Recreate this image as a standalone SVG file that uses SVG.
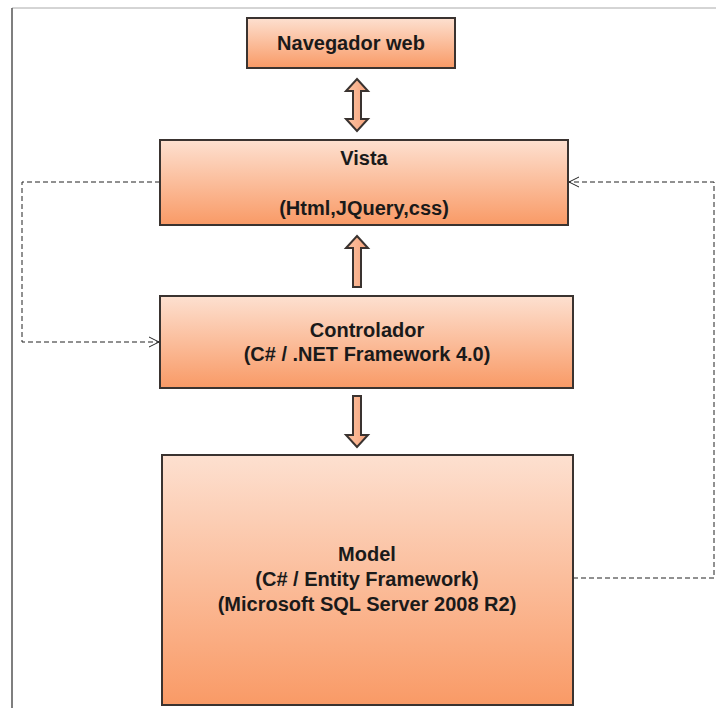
<svg xmlns="http://www.w3.org/2000/svg" width="716" height="708" viewBox="0 0 716 708">
<defs>
<linearGradient id="g" x1="0" y1="0" x2="0" y2="1">
<stop offset="0" stop-color="#fde0d0"/>
<stop offset="1" stop-color="#f99a66"/>
</linearGradient>
<linearGradient id="ga" x1="0" y1="0" x2="1" y2="0">
<stop offset="0" stop-color="#fbc4a4"/>
<stop offset="1" stop-color="#f7a27a"/>
</linearGradient>
<marker id="open" markerWidth="12" markerHeight="12" refX="11" refY="6" orient="auto" markerUnits="userSpaceOnUse">
<path d="M1,1 L11,6 L1,11" fill="none" stroke="#222" stroke-width="1"/>
</marker>
</defs>
<style>
.box{fill:url(#g);stroke:#3a3330;stroke-width:2}
.t{font-family:"Liberation Sans",Arial,sans-serif;font-weight:bold;font-size:20px;fill:#1a1a1a;text-anchor:middle}
.dash{fill:none;stroke:#222;stroke-width:1;stroke-dasharray:5,3}
.blk{fill:url(#ga);stroke:#3a3330;stroke-width:2;stroke-linejoin:miter}
</style>
<rect width="716" height="708" fill="#fff"/>
<g id="frame">
<line x1="12" y1="8" x2="716" y2="8" stroke="#aaa" stroke-width="1"/>
<line x1="12" y1="8" x2="12" y2="708" stroke="#555" stroke-width="1.5"/>
</g>
<g id="connectors">
<path class="dash" d="M160,182 H22 V342 H159" marker-end="url(#open)"/>
<path class="dash" d="M573,578 H714 V182 H569" marker-end="url(#open)"/>
<path class="blk" d="M357,79 L368,91 L361,91 L361,119 L368,119 L357,131 L346,119 L353,119 L353,91 L346,91 Z"/>
<path class="blk" d="M357,236 L368,248 L361,248 L361,287 L353,287 L353,248 L346,248 Z"/>
<path class="blk" d="M353,396 L361,396 L361,435 L368,435 L357,447 L346,435 L353,435 Z"/>
</g>
<g id="navegador">
<rect class="box" x="247" y="18" width="208" height="50"/>
<text class="t" x="351" y="50">Navegador web</text>
</g>
<g id="vista">
<rect class="box" x="160" y="140" width="408" height="85"/>
<text class="t" x="364" y="165">Vista</text>
<text class="t" x="364" y="215">(Html,JQuery,css)</text>
</g>
<g id="controlador">
<rect class="box" x="160" y="296" width="413" height="92"/>
<text class="t" x="367" y="337">Controlador</text>
<text class="t" x="367" y="361">(C# / .NET Framework 4.0)</text>
</g>
<g id="model">
<rect class="box" x="162" y="455" width="411" height="250"/>
<text class="t" x="367" y="561">Model</text>
<text class="t" x="367" y="586">(C# / Entity Framework)</text>
<text class="t" x="367" y="611">(Microsoft SQL Server 2008 R2)</text>
</g>
</svg>
